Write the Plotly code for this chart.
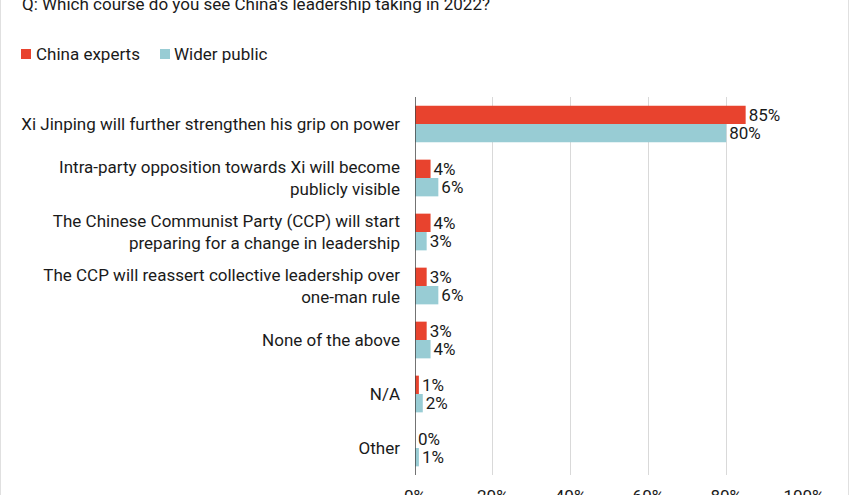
import plotly.graph_objects as go

categories = [
    "Xi Jinping will further strengthen his grip on power",
    "Intra-party opposition towards Xi will become<br>publicly visible",
    "The Chinese Communist Party (CCP) will start<br>preparing for a change in leadership",
    "The CCP will reassert collective leadership over<br>one-man rule",
    "None of the above",
    "N/A",
    "Other",
]
china_experts = [85, 4, 4, 3, 3, 1, 0]
wider_public = [80, 6, 3, 6, 4, 2, 1]
series_names = ["China experts", "Wider public"]
tick_vals = [0, 20, 40, 60, 80, 100]
tick_text = ["0%", "20%", "40%", "60%", "80%", "100%"]

FONT = "Roboto"
FS = 17
RED = "#E8432E"
BLUE = "#98CCD4"
TXT = "#1a1a1a"

fig = go.Figure()
for name, vals, col in [(series_names[0], china_experts, RED),
                        (series_names[1], wider_public, BLUE)]:
    fig.add_trace(go.Bar(
        y=categories, x=vals, name=name, orientation="h",
        marker=dict(color=col, line=dict(width=0)),
        text=[f"{v}%" for v in vals], textposition="outside",
        constraintext="none",
        textfont=dict(family=FONT, size=FS, color=TXT), cliponaxis=False,
        showlegend=False,
    ))

W, H = 850, 495
ml, mr, mt, mb = 415, 46, 97, 20
pw, ph = W - ml - mr, H - mt - mb

def px_x(p):
    return (p - ml) / pw

def px_y(p):
    return (H - mb - p) / ph

shapes = [
    dict(type="line", xref="x", yref="paper", x0=0, x1=0, y0=0, y1=1,
         line=dict(color="#444444", width=1.5)),
    dict(type="line", xref="paper", yref="paper", x0=px_x(0.5), x1=px_x(0.5),
         y0=px_y(0), y1=px_y(H), line=dict(color="#e0e0e0", width=1)),
    dict(type="line", xref="paper", yref="paper", x0=px_x(848.5), x1=px_x(848.5),
         y0=px_y(0), y1=px_y(H), line=dict(color="#e0e0e0", width=1)),
]
annotations = []
# legend (squares + labels)
for name, col, sq_x, tx_x in [(series_names[0], RED, 21, 35),
                              (series_names[1], BLUE, 160, 173)]:
    shapes.append(dict(type="rect", xref="paper", yref="paper",
                       x0=px_x(sq_x), x1=px_x(sq_x + 10),
                       y0=px_y(59), y1=px_y(49),
                       fillcolor=col, line=dict(width=0)))
    annotations.append(dict(text=name, xref="paper", yref="paper",
                            x=px_x(tx_x - 1), y=px_y(54), xanchor="left",
                            yanchor="middle", showarrow=False,
                            font=dict(family=FONT, size=FS, color=TXT)))

fig.update_layout(
    width=W, height=H,
    margin=dict(l=ml, r=mr, t=mt, b=mb, autoexpand=False),
    paper_bgcolor="white", plot_bgcolor="white",
    barmode="group", bargap=0.32, bargroupgap=0,
    font=dict(family=FONT, size=FS, color=TXT),
    title=dict(text="Q: Which course do you see China's leadership taking in 2022?",
               x=22 / W, xref="container", xanchor="left",
               y=1 - 4 / H, yref="container", yanchor="middle",
               font=dict(family=FONT, size=FS, color=TXT)),
    showlegend=False,
    xaxis=dict(range=[0, 100], tickvals=tick_vals, ticktext=tick_text,
               showgrid=True, gridcolor="#d9d9d9", gridwidth=1,
               zeroline=False, showline=False, ticks="", automargin=False,
               ticklabelstandoff=9,
               tickfont=dict(family=FONT, size=FS, color=TXT), fixedrange=True),
    yaxis=dict(autorange="reversed", showgrid=False, zeroline=False,
               showline=False, ticks="", ticklabelstandoff=14, automargin=False,
               tickfont=dict(family=FONT, size=FS, color=TXT), fixedrange=True),
    shapes=shapes,
    annotations=annotations,
)

fig.write_html("out.html",
               config={"displayModeBar": False},
               post_script="document.body.style.margin='0';document.body.style.overflow='hidden';")
